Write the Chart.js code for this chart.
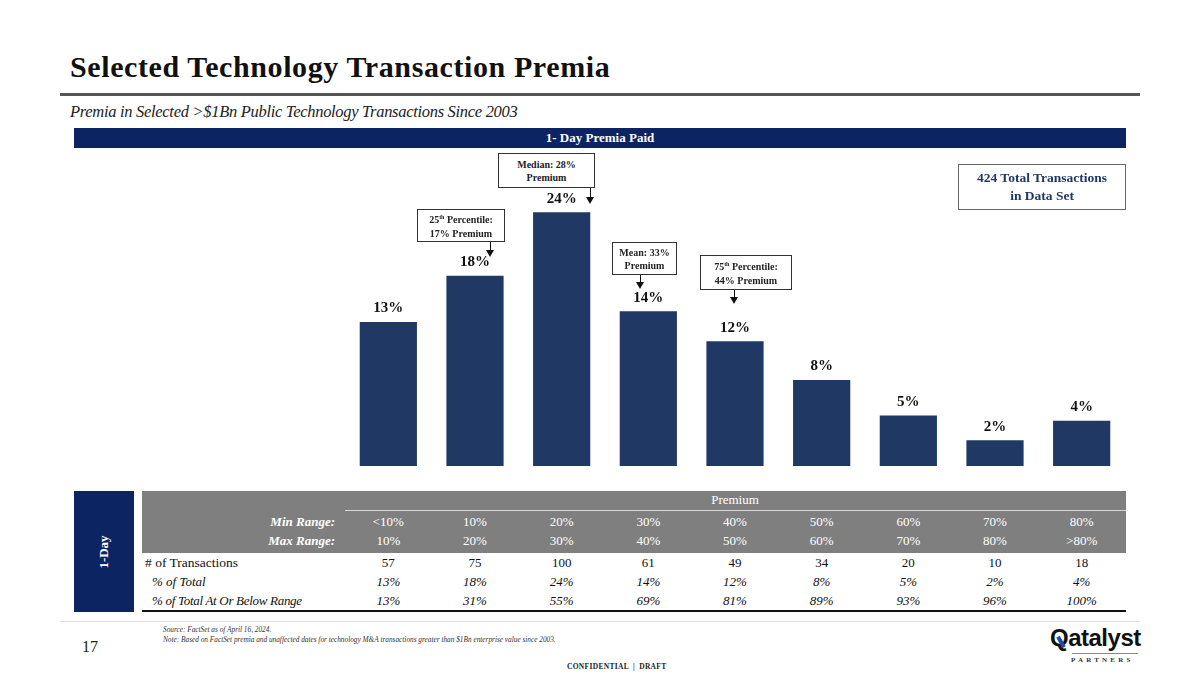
<!DOCTYPE html>
<html><head><meta charset="utf-8">
<script src="https://cdn.jsdelivr.net/npm/chart.js@4.4.1/dist/chart.umd.min.js"></script>
<style>
html,body{margin:0;padding:0;background:#fff;}
body{width:1200px;height:675px;position:relative;overflow:hidden;font-family:"Liberation Serif","DejaVu Serif",serif;}
.abs{position:absolute;}
#title{left:70px;top:50px;font-size:30px;font-weight:bold;color:#111;letter-spacing:0.6px;}
#rule{left:60px;top:93px;width:1080px;height:3px;background:#555;}
#sub{left:70px;top:102px;font-size:16.5px;font-style:italic;color:#222;letter-spacing:-0.3px;}
#band{left:74px;top:128px;width:1052px;height:20px;background:#0c2461;color:#fff;font-weight:bold;font-size:13px;line-height:20px;text-align:center;}
.call{border:1.3px solid #333;background:#fff;font-size:10px;font-weight:bold;text-align:center;line-height:13px;box-sizing:border-box;display:flex;align-items:center;justify-content:center;color:#222;}
.arr{width:1.4px;background:#111;}
.head{width:0;height:0;border-left:4px solid transparent;border-right:4px solid transparent;border-top:7px solid #111;}
#total{left:958px;top:164px;width:168px;height:46px;border:1.3px solid #666;box-sizing:border-box;color:#1f3864;font-weight:bold;font-size:13.5px;text-align:center;line-height:18px;display:flex;align-items:center;justify-content:center;}
#chartBox{position:absolute;left:345px;top:165px;width:780px;height:301px;}
#side{left:74px;top:491px;width:60px;height:121px;background:#0c2461;}
#sideTxt{left:74px;top:491px;width:60px;height:121px;display:flex;align-items:center;justify-content:center;}
#sideTxt span{transform:rotate(-90deg);color:#fff;font-weight:bold;font-size:13px;white-space:nowrap;}
#gray{left:142px;top:491px;width:984px;height:62px;background:#7f7f7f;}
#pline{left:345px;top:510px;width:781px;height:1px;background:#d8d8d8;}
#botline{left:142px;top:610px;width:984px;height:2px;background:#111;}
.cell{position:absolute;text-align:center;font-size:13px;line-height:16px;}
.lbl{position:absolute;font-size:13px;line-height:16px;color:#111;}
#foot{left:60px;top:621px;width:1080px;height:1px;background:#e2e2e2;}
#pg{left:82px;top:638px;font-size:16px;color:#222;}
#notes{left:163px;top:625px;font-size:7.3px;font-style:italic;color:#333;line-height:10px;}
#conf{left:567px;top:662px;font-size:7.5px;font-weight:bold;color:#222;letter-spacing:0.3px;}
#logo{left:1050px;top:624px;font-family:"Liberation Sans",Arial,sans-serif;font-weight:bold;font-size:24px;color:#111;letter-spacing:-0.5px;}
#logo .q{color:#111;position:relative;}
#logo .q:after{content:"";position:absolute;left:9px;top:12px;width:4px;height:12px;background:#1f4e9c;transform:rotate(-30deg);}
#logo2{left:1071px;top:656px;font-size:7px;font-weight:bold;letter-spacing:3.2px;color:#333;}
#logoLine{left:1072px;top:653px;width:66px;height:1px;background:#888;}
</style></head>
<body>
<div id="title" class="abs">Selected Technology Transaction Premia</div>
<div id="rule" class="abs"></div>
<div id="sub" class="abs">Premia in Selected &gt;$1Bn Public Technology Transactions Since 2003</div>
<div id="band" class="abs">1- Day Premia Paid</div>

<div id="chartBox"><canvas id="c"></canvas></div>

<div class="abs call" style="left:498px;top:153px;width:97px;height:35px;">Median: 28%<br>Premium</div>
<div class="abs arr" style="left:589.5px;top:188px;height:11px;"></div>
<div class="abs head" style="left:586px;top:197px;"></div>

<div class="abs call" style="left:417px;top:209px;width:88px;height:33px;"><span>25<sup style="font-size:6px">th</sup> Percentile:<br>17% Premium</span></div>
<div class="abs arr" style="left:489.5px;top:242px;height:10px;"></div>
<div class="abs head" style="left:486px;top:250px;"></div>

<div class="abs call" style="left:612px;top:242px;width:65px;height:33px;">Mean: 33%<br>Premium</div>
<div class="abs arr" style="left:639.5px;top:275px;height:9px;"></div>
<div class="abs head" style="left:636px;top:282px;"></div>

<div class="abs call" style="left:700px;top:255px;width:92px;height:35px;"><span>75<sup style="font-size:6px">th</sup> Percentile:<br>44% Premium</span></div>
<div class="abs arr" style="left:733.5px;top:290px;height:9px;"></div>
<div class="abs head" style="left:730px;top:297px;"></div>

<div id="total" class="abs">424 Total Transactions<br>in Data Set</div>

<div id="side" class="abs"></div>
<div id="sideTxt" class="abs"><span>1-Day</span></div>
<div id="gray" class="abs"></div>
<div id="pline" class="abs"></div>
<div id="botline" class="abs"></div>
<div id="tbl"></div>

<div id="foot" class="abs"></div>
<div id="pg" class="abs">17</div>
<div id="notes" class="abs">Source: FactSet as of April 16, 2024.<br>Note: Based on FactSet premia and unaffected dates for technology M&amp;A transactions greater than $1Bn enterprise value since 2003.</div>
<div id="conf" class="abs">CONFIDENTIAL &nbsp;|&nbsp; DRAFT</div>
<div id="logo" class="abs"><span class="q">Q</span>atalyst</div>
<div id="logoLine" class="abs"></div>
<div id="logo2" class="abs">PARTNERS</div>

<script>
const categories = ["<10%","10-20%","20-30%","30-40%","40-50%","50-60%","60-70%","70-80%",">80%"];
const pctValues = [13.4, 17.7, 23.6, 14.4, 11.6, 8.0, 4.7, 2.4, 4.2];
const pctLabels = ["13%","18%","24%","14%","12%","8%","5%","2%","4%"];
const minRange = ["<10%","10%","20%","30%","40%","50%","60%","70%","80%"];
const maxRange = ["10%","20%","30%","40%","50%","60%","70%","80%",">80%"];
const counts = ["57","75","100","61","49","34","20","10","18"];
const pctTotal = ["13%","18%","24%","14%","12%","8%","5%","2%","4%"];
const pctCum = ["13%","31%","55%","69%","81%","89%","93%","96%","100%"];

const labelPlugin = {
  id:'barLabels',
  afterDatasetsDraw(chart){
    const ctx = chart.ctx;
    const meta = chart.getDatasetMeta(0);
    ctx.save();
    ctx.font = 'bold 15px "Liberation Serif", serif';
    ctx.fillStyle = '#111';
    ctx.textAlign = 'center';
    ctx.textBaseline = 'bottom';
    meta.data.forEach((bar,i)=>{
      ctx.fillText(pctLabels[i], bar.x, bar.y - 6);
    });
    ctx.restore();
  }
};

new Chart(document.getElementById('c'), {
  type:'bar',
  data:{labels:categories, datasets:[{data:pctValues, backgroundColor:'#1f3864', borderWidth:0, categoryPercentage:1, barPercentage:0.66}]},
  options:{
    responsive:true, maintainAspectRatio:false, animation:false,
    layout:{padding:0},
    plugins:{legend:{display:false}, tooltip:{enabled:false}},
    scales:{
      x:{display:false, offset:true},
      y:{display:false, min:0, max:28}
    }
  },
  plugins:[labelPlugin]
});

const tbl = document.getElementById('tbl');
const colW = 780/9, x0 = 345;
function addCell(text, i, top, style){
  const d = document.createElement('div');
  d.className='cell';
  d.style.left = (x0 + colW*i) + 'px';
  d.style.width = colW + 'px';
  d.style.top = top + 'px';
  Object.assign(d.style, style||{});
  d.textContent = text;
  tbl.appendChild(d);
}
function addLbl(text, left, top, style){
  const d = document.createElement('div');
  d.className='lbl';
  d.style.left = left + 'px';
  d.style.top = top + 'px';
  Object.assign(d.style, style||{});
  d.textContent = text;
  tbl.appendChild(d);
}
const p = document.createElement('div');
p.className='cell'; p.style.left='345px'; p.style.width='780px'; p.style.top='492px'; p.style.color='#fff'; p.textContent='Premium';
tbl.appendChild(p);
addLbl('Min Range:', 142, 514, {width:'193px', textAlign:'right', color:'#fff', fontWeight:'bold', fontStyle:'italic'});
addLbl('Max Range:', 142, 533, {width:'193px', textAlign:'right', color:'#fff', fontWeight:'bold', fontStyle:'italic'});
addLbl('# of Transactions', 145, 555, {fontSize:'13.5px'});
addLbl('% of Total', 152, 574, {fontStyle:'italic'});
addLbl('% of Total At Or Below Range', 152, 593, {fontStyle:'italic', letterSpacing:'-0.3px'});
for(let i=0;i<9;i++){
  addCell(minRange[i], i, 514, {color:'#fff'});
  addCell(maxRange[i], i, 533, {color:'#fff'});
  addCell(counts[i], i, 555, {color:'#111'});
  addCell(pctTotal[i], i, 574, {color:'#111', fontStyle:'italic'});
  addCell(pctCum[i], i, 593, {color:'#111', fontStyle:'italic'});
}
</script>
</body></html>
